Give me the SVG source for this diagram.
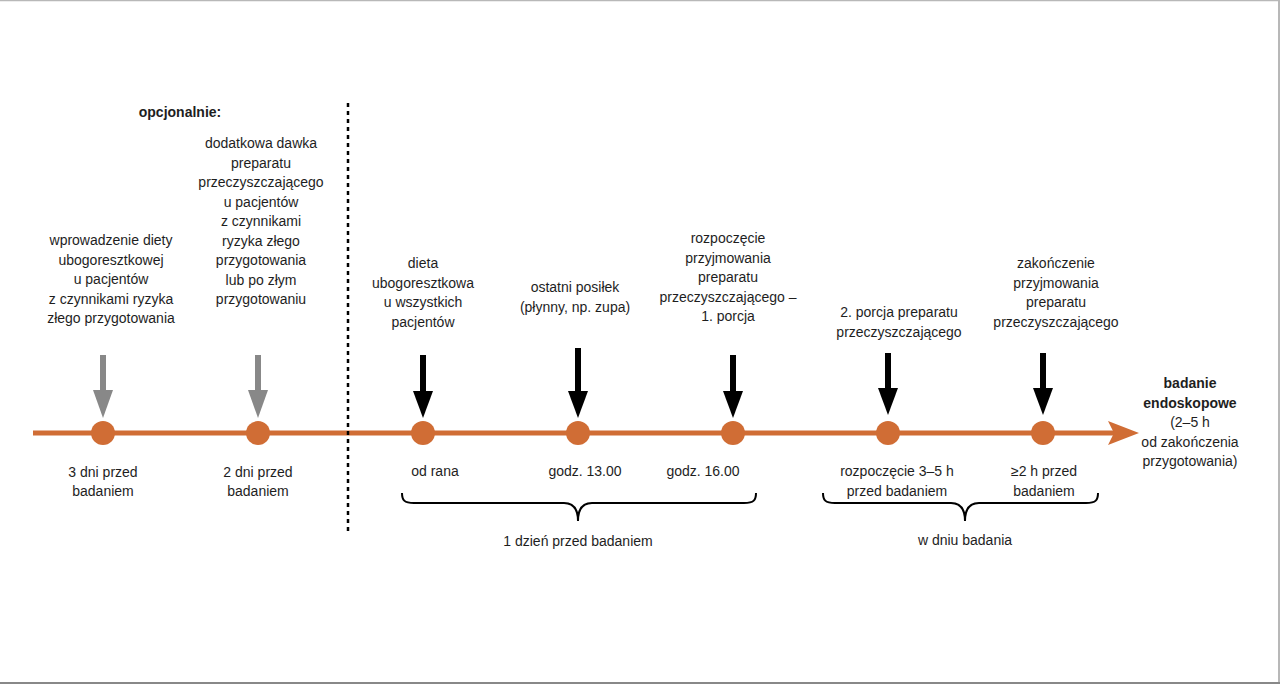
<svg xmlns="http://www.w3.org/2000/svg" width="1280" height="684" viewBox="0 0 1280 684">
<defs>
<style>
text{font-family:"Liberation Sans",Arial,sans-serif;font-size:14px;fill:#1e1e1e;text-anchor:middle}
.b{font-weight:bold}
.dot{fill:#d06d35}
.tl{stroke:#d06d35;stroke-width:5;fill:none}
.shaftk{stroke:#000;stroke-width:6}
.headk{fill:#000}
.shaftg{stroke:#888;stroke-width:6}
.headg{fill:#888}
.brace{fill:none;stroke:#000;stroke-width:2}
</style>
</defs>
<rect width="1280" height="684" fill="#fff"/>
<line x1="0" y1="0.5" x2="1280" y2="0.5" stroke="#b8b8b8" stroke-width="1.5"/>
<line x1="1279" y1="0" x2="1279" y2="684" stroke="#b8b8b8" stroke-width="2"/>
<line x1="0" y1="683" x2="1280" y2="683" stroke="#888" stroke-width="2"/>

<g id="connectors">
<line class="tl" x1="33" y1="433" x2="1115" y2="433"/>
<polygon points="1108,421 1139,433 1108,445 1114,433" fill="#d06d35"/>
<line x1="348" y1="103" x2="348" y2="535" stroke="#000" stroke-width="2.5" stroke-dasharray="4 4"/>
<line class="shaftg" x1="103" y1="355" x2="103" y2="392"/><polygon class="headg" points="93,390 113,390 103,418"/>
<line class="shaftg" x1="258" y1="355" x2="258" y2="392"/><polygon class="headg" points="248,390 268,390 258,418"/>
<line class="shaftk" x1="423" y1="355" x2="423" y2="393"/><polygon class="headk" points="413,391 433,391 423,418"/>
<line class="shaftk" x1="578" y1="348" x2="578" y2="393"/><polygon class="headk" points="568,391 588,391 578,418"/>
<line class="shaftk" x1="733" y1="355" x2="733" y2="393"/><polygon class="headk" points="723,391 743,391 733,418"/>
<line class="shaftk" x1="888" y1="353" x2="888" y2="390"/><polygon class="headk" points="878,388 898,388 888,415"/>
<line class="shaftk" x1="1043" y1="353" x2="1043" y2="390"/><polygon class="headk" points="1033,388 1053,388 1043,415"/>
<path class="brace" d="M402 493 C402 500 404 503 414 503 L564 503 C572 503 578 508 578 521 C578 508 584 503 592 503 L744 503 C754 503 756 500 756 493"/>
<path class="brace" d="M823 493 C823 500 825 503 835 503 L951 503 C959 503 965 508 965 521 C965 508 971 503 979 503 L1086 503 C1096 503 1098 500 1098 493"/>
</g>

<g id="header"><text class="b" x="180" y="117">opcjonalnie:</text></g>

<g id="n1">
<circle class="dot" cx="103" cy="433" r="12"/>
<text x="111" y="245">wprowadzenie diety</text>
<text x="111" y="264.5">ubogoresztkowej</text>
<text x="111" y="284">u pacjentów</text>
<text x="111" y="303.5">z czynnikami ryzyka</text>
<text x="111" y="323">złego przygotowania</text>
<text x="103" y="477">3 dni przed</text>
<text x="103" y="496">badaniem</text>
</g>

<g id="n2">
<circle class="dot" cx="258" cy="433" r="12"/>
<text x="261" y="148">dodatkowa dawka</text>
<text x="261" y="167.5">preparatu</text>
<text x="261" y="187">przeczyszczającego</text>
<text x="261" y="206.5">u pacjentów</text>
<text x="261" y="226">z czynnikami</text>
<text x="261" y="245.5">ryzyka złego</text>
<text x="261" y="265">przygotowania</text>
<text x="261" y="284.5">lub po złym</text>
<text x="261" y="304">przygotowaniu</text>
<text x="258" y="477">2 dni przed</text>
<text x="258" y="496">badaniem</text>
</g>

<g id="n3">
<circle class="dot" cx="423" cy="433" r="12"/>
<text x="423" y="268">dieta</text>
<text x="423" y="287.5">ubogoresztkowa</text>
<text x="423" y="307">u wszystkich</text>
<text x="423" y="326.5">pacjentów</text>
<text x="435" y="476">od rana</text>
</g>

<g id="n4">
<circle class="dot" cx="578" cy="433" r="12"/>
<text x="575" y="292">ostatni posiłek</text>
<text x="575" y="311.5">(płynny, np. zupa)</text>
<text x="585" y="476">godz. 13.00</text>
</g>

<g id="n5">
<circle class="dot" cx="733" cy="433" r="12"/>
<text x="728" y="243">rozpoczęcie</text>
<text x="728" y="262.5">przyjmowania</text>
<text x="728" y="282">preparatu</text>
<text x="728" y="301.5">przeczyszczającego –</text>
<text x="728" y="321">1. porcja</text>
<text x="703" y="476">godz. 16.00</text>
</g>

<g id="n6">
<circle class="dot" cx="888" cy="433" r="12"/>
<text x="899" y="317">2. porcja preparatu</text>
<text x="899" y="336.5">przeczyszczającego</text>
<text x="897" y="476">rozpoczęcie 3–5 h</text>
<text x="897" y="496">przed badaniem</text>
</g>

<g id="n7">
<circle class="dot" cx="1043" cy="433" r="12"/>
<text x="1056" y="268">zakończenie</text>
<text x="1056" y="287.5">przyjmowania</text>
<text x="1056" y="307">preparatu</text>
<text x="1056" y="326.5">przeczyszczającego</text>
<text x="1044" y="476">≥2 h przed</text>
<text x="1044" y="496">badaniem</text>
</g>

<g id="end">
<text class="b" x="1190" y="388">badanie</text>
<text class="b" x="1190" y="407.5">endoskopowe</text>
<text x="1190" y="427">(2–5 h</text>
<text x="1190" y="446.5">od zakończenia</text>
<text x="1190" y="466">przygotowania)</text>
</g>

<g id="braces-labels">
<text x="578" y="546">1 dzień przed badaniem</text>
<text x="965" y="545">w dniu badania</text>
</g>
</svg>
